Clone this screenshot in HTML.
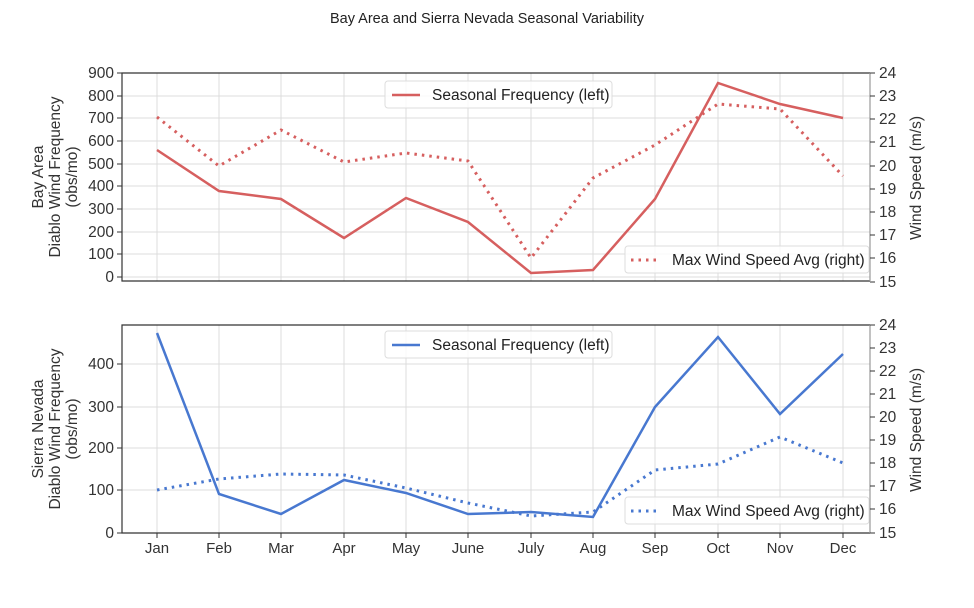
<!DOCTYPE html>
<html><head><meta charset="utf-8"><style>body{margin:0;background:#fff}svg{display:block;font-family:"Liberation Sans",sans-serif}</style></head><body>
<svg width="974" height="608" viewBox="0 0 974 608">
<text x="487" y="23" font-size="14.5" text-anchor="middle" fill="#222">Bay Area and Sierra Nevada Seasonal Variability</text>
<g stroke="#dcdcdc" stroke-width="1">
<path d="M157 73V281M219 73V281M281 73V281M344 73V281M406 73V281M468 73V281M531 73V281M593 73V281M655 73V281M718 73V281M780 73V281M843 73V281"/>
<path d="M157 325V533M219 325V533M281 325V533M344 325V533M406 325V533M468 325V533M531 325V533M593 325V533M655 325V533M718 325V533M780 325V533M843 325V533"/>
<path d="M122 96H870M122 118H870M122 141H870M122 164H870M122 186H870M122 209H870M122 232H870M122 254H870M122 277H870"/>
<path d="M122 364H870M122 407H870M122 448H870M122 490H870"/>
</g>
<g stroke="#333" stroke-width="1.2" fill="none">
<path d="M870 73H122V281H870"/>
<path d="M870 325H122V533H870"/>
</g>
<g stroke="#999" stroke-width="1.2"><path d="M870 73V281M870 325V533"/></g>
<g stroke="#333" stroke-width="1">
<path d="M117 73H122M117 96H122M117 118H122M117 141H122M117 164H122M117 186H122M117 209H122M117 232H122M117 254H122M117 277H122"/>
<path d="M870 73H875M870 96H875M870 119H875M870 142H875M870 166H875M870 189H875M870 212H875M870 235H875M870 258H875M870 282H875"/>
<path d="M117 364H122M117 407H122M117 448H122M117 490H122M117 533H122"/>
<path d="M870 325H875M870 348H875M870 371H875M870 394H875M870 417H875M870 440H875M870 463H875M870 486H875M870 509H875M870 533H875"/>
<path d="M157 533V538M219 533V538M281 533V538M344 533V538M406 533V538M468 533V538M531 533V538M593 533V538M655 533V538M718 533V538M780 533V538M843 533V538"/>
</g>
<g font-size="15.5" fill="#333" text-anchor="end">
<text x="114" y="78">900</text><text x="114" y="101">800</text><text x="114" y="123">700</text><text x="114" y="146">600</text><text x="114" y="169">500</text><text x="114" y="191">400</text><text x="114" y="214">300</text><text x="114" y="237">200</text><text x="114" y="259">100</text><text x="114" y="282">0</text>
<text x="114" y="369">400</text><text x="114" y="412">300</text><text x="114" y="453">200</text><text x="114" y="495">100</text><text x="114" y="538">0</text>
</g>
<g font-size="15.5" fill="#333">
<text x="879" y="78">24</text><text x="879" y="101">23</text><text x="879" y="124">22</text><text x="879" y="147">21</text><text x="879" y="171">20</text><text x="879" y="194">19</text><text x="879" y="217">18</text><text x="879" y="240">17</text><text x="879" y="263">16</text><text x="879" y="287">15</text>
<text x="879" y="330">24</text><text x="879" y="353">23</text><text x="879" y="376">22</text><text x="879" y="399">21</text><text x="879" y="422">20</text><text x="879" y="445">19</text><text x="879" y="468">18</text><text x="879" y="491">17</text><text x="879" y="514">16</text><text x="879" y="538">15</text>
</g>
<g font-size="15" fill="#333" text-anchor="middle">
<text x="157" y="553">Jan</text><text x="219" y="553">Feb</text><text x="281" y="553">Mar</text><text x="344" y="553">Apr</text><text x="406" y="553">May</text><text x="468" y="553">June</text><text x="531" y="553">July</text><text x="593" y="553">Aug</text><text x="655" y="553">Sep</text><text x="718" y="553">Oct</text><text x="780" y="553">Nov</text><text x="843" y="553">Dec</text>
</g>
<g font-size="15.5" fill="#333" text-anchor="middle">
<text transform="translate(43 177) rotate(-90)">Bay Area</text>
<text transform="translate(60 177) rotate(-90)">Diablo Wind Frequency</text>
<text transform="translate(77 177) rotate(-90)">(obs/mo)</text>
<text transform="translate(43 429) rotate(-90)">Sierra Nevada</text>
<text transform="translate(60 429) rotate(-90)">Diablo Wind Frequency</text>
<text transform="translate(77 429) rotate(-90)">(obs/mo)</text>
<text transform="translate(921 178) rotate(-90)">Wind Speed (m/s)</text>
<text transform="translate(921 430) rotate(-90)">Wind Speed (m/s)</text>
</g>
<g fill="none" stroke-width="2.5">
<polyline stroke="#d65f5f" points="157,150 219,191 281,199 344,238 406,198 468,222 531,273 593,270 655,199 718,83 780,104 843,118"/>
<polyline stroke="#d65f5f" stroke-dasharray="2.5,5" stroke-width="3" points="157,117 219,166 281,130 344,162 406,153 468,161 531,258 593,178 655,145 718,104 780,109 843,176"/>
<polyline stroke="#4878d0" points="157,333 219,494 281,514 344,480 406,493 468,514 531,512 593,517 655,407 718,337 780,414 843,354"/>
<polyline stroke="#4878d0" stroke-dasharray="2.5,5" stroke-width="3" points="157,490 219,479 281,474 344,475 406,488 468,503 531,516 593,512 655,470 718,464 780,437 843,463"/>
</g>
<g font-size="15.5" fill="#222">
<rect x="385" y="81" width="227" height="27" rx="3" fill="#fff" fill-opacity="0.85" stroke="#ddd"/>
<line x1="392" y1="95" x2="420" y2="95" stroke="#d65f5f" stroke-width="2.5"/>
<text x="432" y="100">Seasonal Frequency (left)</text>
<rect x="625" y="246" width="244" height="27" rx="3" fill="#fff" fill-opacity="0.85" stroke="#ddd"/>
<line x1="631" y1="260" x2="659" y2="260" stroke="#d65f5f" stroke-width="3" stroke-dasharray="2.5,5"/>
<text x="672" y="265">Max Wind Speed Avg (right)</text>
<rect x="385" y="331" width="227" height="27" rx="3" fill="#fff" fill-opacity="0.85" stroke="#ddd"/>
<line x1="392" y1="345" x2="420" y2="345" stroke="#4878d0" stroke-width="2.5"/>
<text x="432" y="350">Seasonal Frequency (left)</text>
<rect x="625" y="497" width="244" height="27" rx="3" fill="#fff" fill-opacity="0.85" stroke="#ddd"/>
<line x1="631" y1="511" x2="659" y2="511" stroke="#4878d0" stroke-width="3" stroke-dasharray="2.5,5"/>
<text x="672" y="516">Max Wind Speed Avg (right)</text>
</g>
</svg>
</body></html>
